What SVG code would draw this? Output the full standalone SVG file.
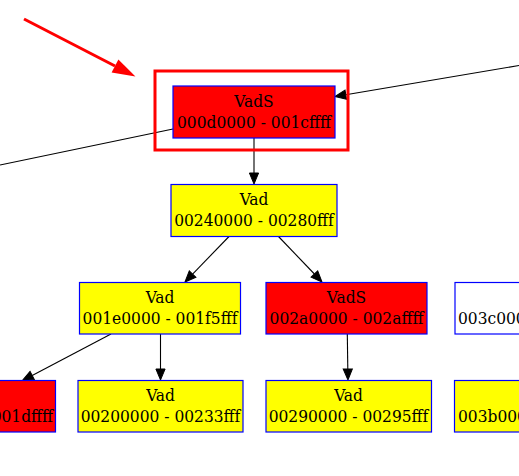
<svg xmlns="http://www.w3.org/2000/svg" width="519" height="476" viewBox="0 0 519 476">
<style>
.n{stroke:#0000ff;stroke-width:1.2}
.red{fill:#ff0000}
.yel{fill:#ffff00}
.wht{fill:#ffffff}
text{font-family:"DejaVu Serif Condensed","DejaVu Serif",serif;font-stretch:condensed;font-size:17.2px;fill:#000}
.c{text-anchor:middle}
.e{stroke:#000;stroke-width:1.1;fill:none}
</style>
<defs>
<marker id="ah" markerUnits="userSpaceOnUse" refX="0" refY="0" orient="auto" overflow="visible">
<path d="M0,-4.6 L11,0 L0,4.6 z" fill="#000" stroke="#000" stroke-width="1"/>
</marker>
<marker id="rh" markerUnits="userSpaceOnUse" refX="0" refY="0" orient="auto" overflow="visible">
<path d="M0,-7.4 L23,0 L0,7.4 z" fill="#ff0000"/>
</marker>
</defs>
<rect width="519" height="476" fill="#fff"/>
<g id="connectors">
<line class="e" x1="254" y1="138" x2="254" y2="173" marker-end="url(#ah)"/>
<line class="e" x1="229" y1="236.5" x2="192.6" y2="274.1" marker-end="url(#ah)"/>
<line class="e" x1="278.5" y1="236.5" x2="314.4" y2="274" marker-end="url(#ah)"/>
<line class="e" x1="111" y1="334" x2="32.2" y2="375.4" marker-end="url(#ah)"/>
<line class="e" x1="160.5" y1="334" x2="160.5" y2="369" marker-end="url(#ah)"/>
<line class="e" x1="347.3" y1="334" x2="347.8" y2="369" marker-end="url(#ah)"/>
<line class="e" x1="0" y1="165" x2="173" y2="129"/>
<line class="e" x1="519" y1="65.5" x2="345.8" y2="94.7" marker-end="url(#ah)"/>
</g>
<g id="pointer">
<line x1="24" y1="19" x2="115" y2="66" stroke="#ff0000" stroke-width="3" marker-end="url(#rh)"/>
</g>
<g id="highlight">
<rect x="155" y="71" width="193" height="79" fill="none" stroke="#ff0000" stroke-width="3"/>
</g>
<g id="n_vads_d0000">
<rect class="n red" x="173" y="86" width="162" height="52"/>
<text class="c" x="254" y="107">VadS</text>
<text class="c" x="254" y="128">000d0000 - 001cffff</text>
</g>
<g id="n_vad_240000">
<rect class="n yel" x="171" y="184.5" width="166" height="52"/>
<text class="c" x="254" y="205">Vad</text>
<text class="c" x="254" y="226">00240000 - 00280fff</text>
</g>
<g id="n_vad_1e0000">
<rect class="n yel" x="79.5" y="282.5" width="161" height="51.5"/>
<text class="c" x="160" y="303">Vad</text>
<text class="c" x="160" y="324">001e0000 - 001f5fff</text>
</g>
<g id="n_vads_2a0000">
<rect class="n red" x="266" y="282.5" width="161" height="51.5"/>
<text class="c" x="346.5" y="303">VadS</text>
<text class="c" x="346.5" y="324">002a0000 - 002affff</text>
</g>
<g id="n_3c0000">
<rect class="n wht" x="455" y="282.5" width="170" height="51.5"/>
<text x="458" y="324">003c0000</text>
</g>
<g id="n_vads_1d0000">
<rect class="n red" x="-110" y="380.5" width="165.5" height="51.5"/>
<text x="53" y="422" text-anchor="end">001dffff</text>
</g>
<g id="n_vad_200000">
<rect class="n yel" x="78" y="380.5" width="165" height="51.5"/>
<text class="c" x="160.5" y="401">Vad</text>
<text class="c" x="160.5" y="422">00200000 - 00233fff</text>
</g>
<g id="n_vad_290000">
<rect class="n yel" x="266" y="380.5" width="165.5" height="51.5"/>
<text class="c" x="348.5" y="401">Vad</text>
<text class="c" x="348.5" y="422">00290000 - 00295fff</text>
</g>
<g id="n_3b0000">
<rect class="n yel" x="454.5" y="380.5" width="170" height="51.5"/>
<text x="458" y="422">003b0000</text>
</g>
</svg>
